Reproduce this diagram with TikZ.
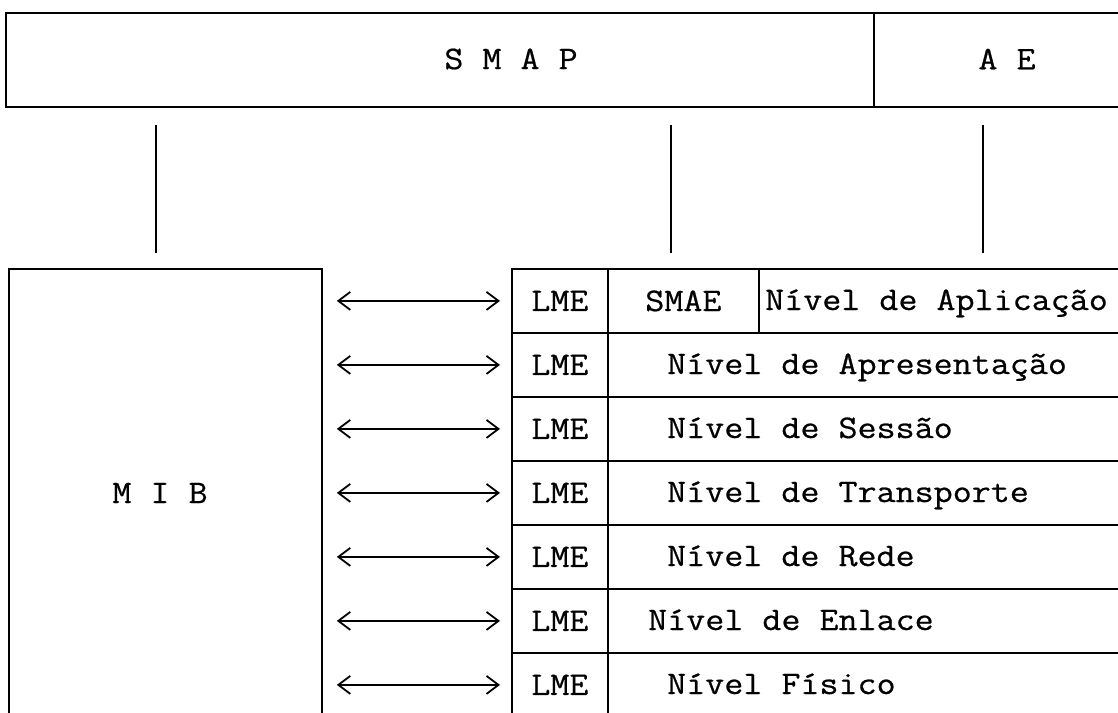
\documentclass[tikz,border=0pt]{standalone}
\usepackage{fontspec}
\setmonofont{Latin Modern Mono}[FakeStretch=1.12,FakeBold=0.6]
\usetikzlibrary{arrows.meta}
\begin{document}
\begin{tikzpicture}[x=1pt,y=-1pt,
  line/.style={line width=1.8pt},
  cell/.style={draw,line width=1.8pt,anchor=north west,inner sep=0pt},
  txt/.style={font=\ttfamily\fontsize{33}{38}\selectfont,inner sep=0pt},
  biarrow/.style={line width=1.5pt,{Straight Barb[length=12pt,width=18pt,line width=1.8pt]}-{Straight Barb[length=12pt,width=18pt,line width=1.8pt]}}
]
\useasboundingbox (0,0) rectangle (1118,712);
% top boxes
\node[cell,line width=2.2pt,minimum width=868pt,minimum height=94pt] (smap) at (5,12) {};
\node[cell,line width=2.2pt,minimum width=400pt,minimum height=94pt] (ae) at (873,12) {};
\node[txt] (smapt) at (511,59) {S M A P};
\node[txt] (aet) at (1007,59) {A E};
% vertical links
\coordinate (a1) at (156,125); \coordinate (b1) at (156,253);
\coordinate (a2) at (671,125); \coordinate (b2) at (671,253);
\coordinate (a3) at (983,125); \coordinate (b3) at (983,253);
\draw[line] (a1) -- (b1);
\draw[line] (a2) -- (b2);
\draw[line] (a3) -- (b3);
% MIB
\node[cell,minimum width=313pt,minimum height=500pt] (mib) at (8,268) {};
\node[txt] (mibt) at (160,493) {M I B};
% stack
\foreach \i in {1,...,7} {
  \pgfmathsetmacro{\yy}{268+64*(\i-1)}
  \node[cell,minimum width=96pt,minimum height=64pt] (lmebox\i) at (511,\yy) {};
  \node[txt] (lme\i) at (lmebox\i.center) {LME};
  \draw[biarrow,shorten <=14pt,shorten >=11pt] (mib.east |- lmebox\i.center) -- (lmebox\i.west);
}
\node[cell,minimum width=151pt,minimum height=64pt] (smaebox) at (607,268) {};
\node[txt] (smae) at (smaebox.center) {SMAE};
\node[cell,minimum width=500pt,minimum height=64pt] (apl) at (758,268) {};
\foreach \i in {2,...,7} {
  \pgfmathsetmacro{\yy}{268+64*(\i-1)}
  \node[cell,minimum width=600pt,minimum height=64pt] (lay\i) at (607,\yy) {};
}
\node[txt,anchor=base west] (t1) at (765,310) {Nível de Aplicação};
\node[txt,anchor=base west] (t2) at (667,374) {Nível de Apresentação};
\node[txt,anchor=base west] (t3) at (667,438) {Nível de Sessão};
\node[txt,anchor=base west] (t4) at (667,502) {Nível de Transporte};
\node[txt,anchor=base west] (t5) at (667,566) {Nível de Rede};
\node[txt,anchor=base west] (t6) at (648,630) {Nível de Enlace};
\node[txt,anchor=base west] (t7) at (667,694) {Nível Físico};
\end{tikzpicture}
\end{document}
